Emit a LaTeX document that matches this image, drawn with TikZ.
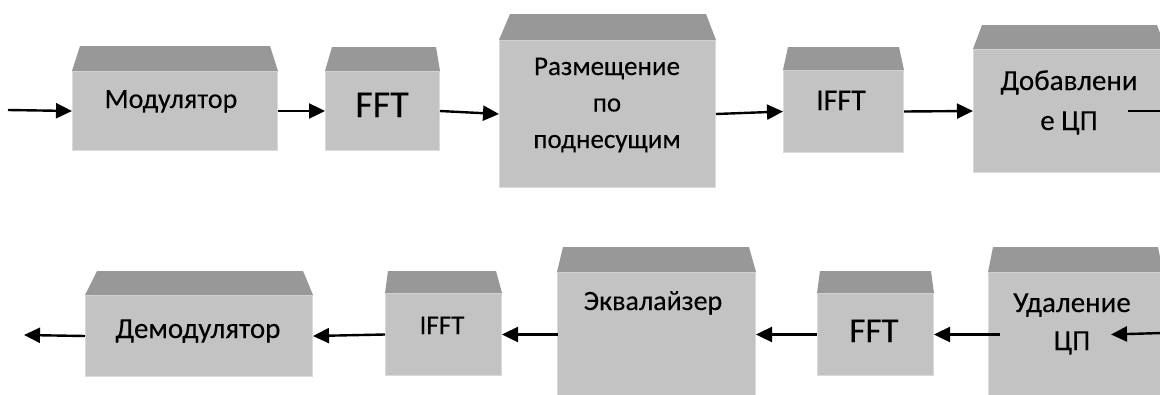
\documentclass[tikz,border=0pt]{standalone}
\usepackage{fontspec}
\setmainfont{Carlito}[FakeBold=0.2]
\usetikzlibrary{arrows.meta}
\definecolor{topc}{RGB}{152,152,152}
\definecolor{bodyc}{RGB}{195,195,195}
\definecolor{edgec}{RGB}{218,218,218}
\tikzset{
  body/.style={fill=bodyc, draw=edgec, line width=1pt, inner sep=0pt, anchor=north west},
  txt/.style={anchor=base, inner sep=0pt, text=black, align=center},
  conn/.style={line width=2.4pt, -{Triangle[length=16pt,width=15pt]}},
  plainline/.style={line width=2.4pt},
}
\newcommand\blocktop[4]{%
  \fill[topc] (#1.north west) -- ([xshift=#2pt,yshift=#4pt]#1.north west)
    -- ([xshift=-#3pt,yshift=#4pt]#1.north east) -- (#1.north east) -- cycle;}
\newcommand\fs[2]{\fontsize{#1}{#2}\selectfont}
\begin{document}
\begin{tikzpicture}[x=1pt,y=-1pt]
\clip (0,0) rectangle (1160,394);
\fill[white] (0,0) rectangle (1160,394);
% top row bodies
\node[body, minimum width=205pt, minimum height=79pt] (mod) at (72,71) {};
\node[body, minimum width=114pt, minimum height=79pt] (fftA) at (325,71) {};
\node[body, minimum width=216pt, minimum height=147pt] (razm) at (499,40) {};
\node[body, minimum width=120pt, minimum height=82pt] (ifftA) at (783,70) {};
\node[body, minimum width=192pt, minimum height=123pt] (dob) at (973,49) {};
% bottom row bodies
\node[body, minimum width=227pt, minimum height=81pt] (demod) at (85,295) {};
\node[body, minimum width=116pt, minimum height=82pt] (ifftB) at (385,293) {};
\node[body, minimum width=198pt, minimum height=124pt] (eq) at (557,272) {};
\node[body, minimum width=116pt, minimum height=82pt] (fftB) at (817,293) {};
\node[body, minimum width=174pt, minimum height=124pt] (udal) at (988,272) {};
% tops
\blocktop{mod}{8}{8}{25}
\blocktop{fftA}{7}{4}{24}
\blocktop{razm}{11}{10}{26}
\blocktop{ifftA}{5}{5}{23}
\blocktop{dob}{9}{9}{24}
\blocktop{demod}{12}{10}{24}
\blocktop{ifftB}{3}{6}{22}
\blocktop{eq}{6}{7}{25}
\blocktop{fftB}{3}{3}{22}
\blocktop{udal}{5}{5}{25}
% texts
\node[txt, font=\fs{28}{34}] (modT) at (171,108) {Модулятор};
\node[txt, font=\fs{38}{46}] (fftAT) at (382,117) {FFT};
\node[txt, font=\fs{27}{36.5}] (razmT) at (607,148) {Размещение\\по\\поднесущим};
\node[txt, font=\fs{30}{36}] (ifftAT) at (841,110) {IFFT};
\node[txt, font=\fs{29}{40}] (dobT) at (1069,130) {Добавлени\\е ЦП};
\node[txt, font=\fs{29}{36}] (demodT) at (198,338) {Демодулятор};
\node[txt, font=\fs{27}{36}] (ifftBT) at (442,334) {IFFT};
\node[txt, font=\fs{28}{36}] (eqT) at (653,310) {Эквалайзер};
\node[txt, font=\fs{35}{42}] (fftBT) at (874,342) {FFT};
\node[txt, font=\fs{29}{38}] (udalT) at (1072,350) {Удаление\\ЦП};
% connectors
\coordinate (inA) at (8,110);
\coordinate (dobOut) at (1162,111);
\coordinate (udIn) at (1162,333);
\coordinate (outB) at (24,335);
\draw[conn] (inA) -- (mod.west);
\draw[conn] (mod.east) -- (fftA.west);
\draw[conn] (fftA.east) -- (razm.west);
\draw[conn] (razm.east) -- (ifftA.west);
\draw[conn] (ifftA.east) -- (dob.west);
\draw[plainline] ([xshift=-38pt]dob.east) -- (dobOut);
\draw[conn] (udIn) -- ([xshift=-52pt]udal.east);
\draw[conn] ([xshift=12pt]udal.west) -- (fftB.east);
\draw[conn] (fftB.west) -- (eq.east);
\draw[conn] ([xshift=1pt]eq.west) -- (ifftB.east);
\draw[conn] (ifftB.west) -- (demod.east);
\draw[conn] (demod.west) -- (outB);
\end{tikzpicture}
\end{document}
